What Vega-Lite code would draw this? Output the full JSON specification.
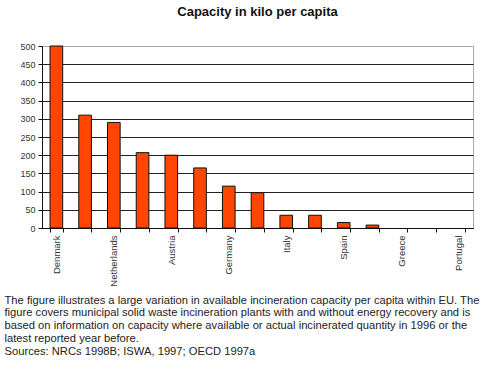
{
  "$schema": "https://vega.github.io/schema/vega-lite/v6.json",
  "autosize": "none",
  "width": 431,
  "height": 182,
  "padding": {"left": 42, "top": 46, "right": 17, "bottom": 140},
  "background": "white",
  "title": {
    "text": "Capacity in kilo per capita",
    "font": "Liberation Sans",
    "fontSize": 13,
    "fontWeight": "bold",
    "color": "#111",
    "anchor": "middle",
    "offset": 23
  },
  "config": {
    "view": {"stroke": "#aaaaaa", "strokeWidth": 1},
    "font": "Liberation Sans"
  },
  "data": {
    "values": [
      {"country": "Denmark", "capacity": 500},
      {"country": "Luxembourg", "capacity": 310},
      {"country": "Netherlands", "capacity": 290},
      {"country": "Sweden", "capacity": 207},
      {"country": "Austria", "capacity": 200},
      {"country": "France", "capacity": 165},
      {"country": "Germany", "capacity": 115},
      {"country": "Belgium", "capacity": 97},
      {"country": "Italy", "capacity": 35},
      {"country": "United Kingdom", "capacity": 35},
      {"country": "Spain", "capacity": 15},
      {"country": "Finland", "capacity": 8},
      {"country": "Greece", "capacity": 0},
      {"country": "Ireland", "capacity": 0},
      {"country": "Portugal", "capacity": 0}
    ]
  },
  "mark": {"type": "bar", "fill": "#FF4500", "stroke": "#111", "strokeWidth": 1},
  "encoding": {
    "x": {
      "field": "country",
      "type": "nominal",
      "sort": null,
      "scale": {"paddingInner": 0.56, "paddingOuter": 0.28},
      "axis": {
        "labelAngle": -90,
        "labelAlign": "right",
        "labelBaseline": "middle",
        "labelFontSize": 9.5,
        "labelColor": "#333",
        "labelPadding": 3,
        "labelExpr": "indexof(['Denmark','Netherlands','Austria','Germany','Italy','Spain','Greece','Portugal'], datum.value) >= 0 ? datum.label : ''",
        "tickBand": "extent",
        "tickColor": "#111",
        "tickSize": 4,
        "domainColor": "#111",
        "domainWidth": 1,
        "grid": false,
        "title": [
          "The figure illustrates a large variation in available incineration capacity per capita within EU. The",
          "figure covers municipal solid waste incineration plants with and without energy recovery and is",
          "based on information on capacity where available or actual incinerated quantity in 1996 or the",
          "latest reported year before.",
          "Sources:  NRCs 1998B; ISWA, 1997; OECD 1997a"
        ],
        "titleFont": "Liberation Sans",
        "titleFontSize": 11.2,
        "titleFontWeight": "normal",
        "titleColor": "#222",
        "titleAlign": "left",
        "titleAnchor": "start",
        "titleBaseline": "alphabetic",
        "titleLineHeight": 12.8,
        "titleX": -38,
        "titleY": 75
      }
    },
    "y": {
      "field": "capacity",
      "type": "quantitative",
      "scale": {"domain": [0, 500], "nice": false},
      "axis": {
        "values": [0, 50, 100, 150, 200, 250, 300, 350, 400, 450, 500],
        "title": null,
        "labelFontSize": 9,
        "labelColor": "#333",
        "labelPadding": 3,
        "tickSize": 4,
        "tickColor": "#111",
        "domainColor": "#111",
        "grid": true,
        "gridColor": {"condition": {"test": "datum.value == 500", "value": "#aaaaaa"}, "value": "#222222"},
        "gridWidth": 1,
        "gridOpacity": 1
      }
    },
    "strokeOpacity": {"condition": {"test": "datum.capacity == 0", "value": 0}, "value": 1}
  }
}
